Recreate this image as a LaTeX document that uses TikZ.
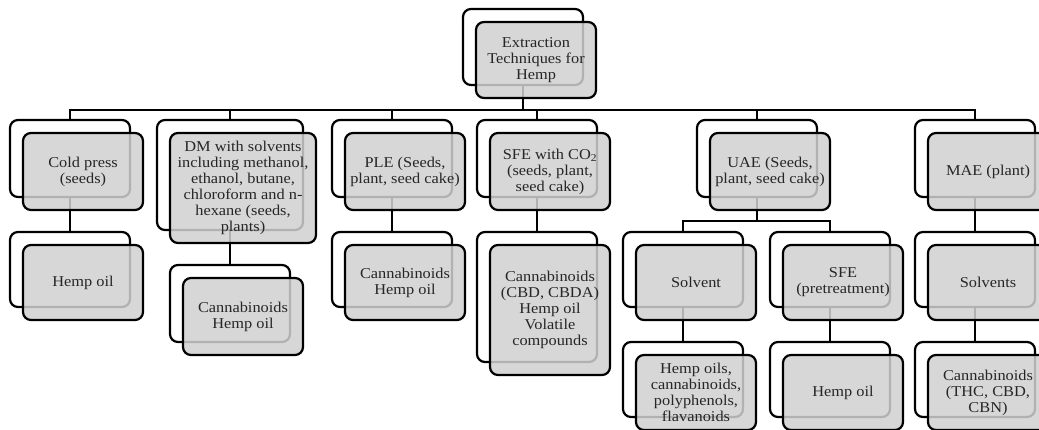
\documentclass[tikz,border=0pt]{standalone}
\usepackage{fontspec}
\setmainfont[FakeStretch=1.09]{Liberation Serif}
\usetikzlibrary{positioning,calc}
\tikzset{
  backbox/.style={draw=black, line width=2.2pt, rounded corners=8pt, fill=white,
    minimum width=120pt, minimum height=77pt, inner sep=0pt},
  frontbox/.style={draw=black, line width=2.2pt, rounded corners=8pt, fill=gray!37,
    fill opacity=0.85, text opacity=1, minimum width=120pt, minimum height=77pt,
    align=center, inner sep=2pt, font=\fontsize{15}{16}\selectfont, text=black!85},
  conn/.style={line width=2pt, draw=black},
}
\begin{document}
\begin{tikzpicture}[x=1pt,y=-1pt]
\useasboundingbox (0,0) rectangle (1039,430);
\clip (0,0) rectangle (1039,430);
% back boxes
\node[backbox, minimum height=76pt] (top) at (523,47) {};
\node[backbox] (cold) at (70,158.5) {};
\node[backbox, minimum width=146pt, minimum height=110pt] (dm) at (230,175) {};
\node[backbox] (ple) at (392,158.5) {};
\node[backbox] (sfe) at (537,158.5) {};
\node[backbox] (uae) at (757,158.5) {};
\node[backbox] (mae) at (975,158.5) {};
\node[backbox, minimum height=75pt] (hemp1) at (70,269.5) {};
\node[backbox] (dmc) at (230,303.5) {};
\node[backbox, minimum height=75pt] (plec) at (392,269.5) {};
\node[backbox, minimum height=130pt] (sfec) at (537,297) {};
\node[backbox, minimum height=75pt] (solv) at (683,269.5) {};
\node[backbox, minimum height=75pt] (sfep) at (830,269.5) {};
\node[backbox, minimum height=75pt] (solvs) at (975,269.5) {};
\node[backbox, minimum height=75pt] (hoils) at (683,379.5) {};
\node[backbox, minimum height=75pt] (hoil2) at (830,379.5) {};
\node[backbox, minimum height=75pt] (cann) at (975,379.5) {};
% connectors
\draw[conn] (top.south) -- ++(0,24) coordinate (bar);
\foreach \c in {cold,dm,ple,sfe,uae,mae} \draw[conn] (bar) -| (\c.north);
\draw[conn] (cold.south) -- (hemp1.north);
\draw[conn] (dm.south) -- (dmc.north);
\draw[conn] (ple.south) -- (plec.north);
\draw[conn] (sfe.south) -- (sfec.north);
\draw[conn] (uae.south) -- ++(0,23) coordinate (bar2);
\draw[conn] (bar2) -| (solv.north);
\draw[conn] (bar2) -| (sfep.north);
\draw[conn] (mae.south) -- (solvs.north);
\draw[conn] (solv.south) -- (hoils.north);
\draw[conn] (sfep.south) -- (hoil2.north);
\draw[conn] (solvs.south) -- (cann.north);
% front boxes
\node[frontbox, minimum height=76pt] (topF) at ([shift={(13,13)}]top.center) {Extraction\\Techniques for\\Hemp};
\node[frontbox] (coldF) at ([shift={(13,13)}]cold.center) {Cold press\\(seeds)};
\node[frontbox, minimum width=146pt, minimum height=110pt] (dmF) at ([shift={(13,13)}]dm.center) {DM with solvents\\including methanol,\\ethanol, butane,\\chloroform and n-\\hexane (seeds,\\plants)};
\node[frontbox] (pleF) at ([shift={(13,13)}]ple.center) {PLE (Seeds,\\plant, seed cake)};
\node[frontbox] (sfeF) at ([shift={(13,13)}]sfe.center) {SFE with CO\textsubscript{2}\\(seeds, plant,\\seed cake)};
\node[frontbox] (uaeF) at ([shift={(13,13)}]uae.center) {UAE (Seeds,\\plant, seed cake)};
\node[frontbox] (maeF) at ([shift={(13,13)}]mae.center) {MAE (plant)};
\node[frontbox, minimum height=75pt] (hemp1F) at ([shift={(13,13)}]hemp1.center) {Hemp oil};
\node[frontbox] (dmcF) at ([shift={(13,13)}]dmc.center) {Cannabinoids\\Hemp oil};
\node[frontbox, minimum height=75pt] (plecF) at ([shift={(13,13)}]plec.center) {Cannabinoids\\Hemp oil};
\node[frontbox, minimum height=130pt] (sfecF) at ([shift={(13,13)}]sfec.center) {Cannabinoids\\(CBD, CBDA)\\Hemp oil\\Volatile\\compounds};
\node[frontbox, minimum height=75pt] (solvF) at ([shift={(13,13)}]solv.center) {Solvent};
\node[frontbox, minimum height=75pt] (sfepF) at ([shift={(13,13)}]sfep.center) {SFE\\(pretreatment)};
\node[frontbox, minimum height=75pt] (solvsF) at ([shift={(13,13)}]solvs.center) {Solvents};
\node[frontbox, minimum height=75pt] (hoilsF) at ([shift={(13,13)}]hoils.center) {Hemp oils,\\cannabinoids,\\polyphenols,\\flavanoids};
\node[frontbox, minimum height=75pt] (hoil2F) at ([shift={(13,13)}]hoil2.center) {Hemp oil};
\node[frontbox, minimum height=75pt] (cannF) at ([shift={(13,13)}]cann.center) {Cannabinoids\\(THC, CBD,\\CBN)};
\end{tikzpicture}
\end{document}
